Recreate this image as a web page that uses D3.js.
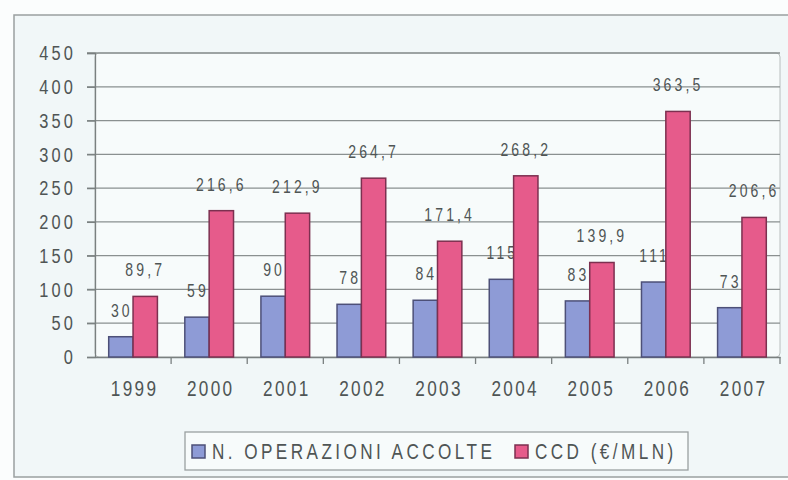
<!DOCTYPE html>
<html>
<head>
<meta charset="utf-8">
<script src="https://cdn.jsdelivr.net/npm/d3@7"></script>
<style>
  body { margin: 0; background: #fbfdfd; }
  text { font-family: "Liberation Sans", Arial, sans-serif; fill: #4f5555; }
</style>
</head>
<body>
<div class="graph"></div>
<script>
	var years = ["1999", "2000", "2001", "2002", "2003", "2004", "2005", "2006", "2007"];
	var operazioni = [30, 59, 90, 78, 84, 115, 83, 111, 73];
	var ccd = [89.7, 216.6, 212.9, 264.7, 171.4, 268.2, 139.9, 363.5, 206.6];
	var yTicks = [0, 50, 100, 150, 200, 250, 300, 350, 400, 450];
	var seriesNames = ["N. OPERAZIONI ACCOLTE", "CCD (€/MLN)"];

	var colBlue = "#8e9bd6", colPink = "#e65b8b";
	var k = 0.78;   // the font in the picture is a narrow one, squeeze it
	var squeeze = "scale(" + k + ",1)";

	var svg = d3.select(".graph")
	   .append("svg")
	   .attr("width", 788)
	   .attr("height", 480);

	// outer frame
	svg.append("rect")
		.attr("x", 14).attr("y", 15)
		.attr("width", 790).attr("height", 462)
		.attr("fill", "#f1f7f8")
		.attr("stroke", "#9aa0a0")
		.attr("stroke-width", 1.5);

	var plotLeft = 95, plotRight = 780, plotTop = 53, plotBottom = 357;

	var x = d3.scaleBand().domain(years).range([plotLeft, plotRight]);
	var x1 = d3.scaleBand().domain([0, 1])
		.range([x.bandwidth() * 0.18, x.bandwidth() * 0.82]);
	var y = d3.scaleLinear().domain([0, 450]).range([plotBottom, plotTop]);

	// plot area
	svg.append("rect")
		.attr("x", plotLeft).attr("y", plotTop)
		.attr("width", plotRight - plotLeft).attr("height", plotBottom - plotTop)
		.attr("rx", 4)
		.attr("fill", "#f7fbfb")
		.attr("stroke", "#b8bebe");

	// gridlines
	svg.selectAll("line.grid")
		.data(yTicks.slice(1))
		.enter()
		.append("line")
		.attr("x1", plotLeft - 8)
		.attr("x2", plotRight)
		.attr("y1", function(d){ return y(d); })
		.attr("y2", function(d){ return y(d); })
		.attr("stroke", "#8a9090")
		.attr("stroke-width", 1.3);

	// y axis
	var yAxis = svg.append("g")
		.attr("transform", "translate(" + plotLeft + ",0)")
		.call(d3.axisLeft(y).tickValues(yTicks).tickSize(8));
	yAxis.select(".domain").attr("stroke", "#7a8080").attr("stroke-width", 1.3);
	yAxis.selectAll(".tick line").attr("stroke", "#7a8080").attr("stroke-width", 1.3);
	yAxis.selectAll("text")
		.attr("x", -19 / k)
		.attr("transform", squeeze)
		.attr("font-size", "21px")
		.attr("letter-spacing", "4px")
		.attr("fill", "#4f5555");

	// x axis
	var xAxis = svg.append("g")
		.attr("transform", "translate(0," + plotBottom + ")")
		.call(d3.axisBottom(x).tickSize(0).tickPadding(23));
	xAxis.select(".domain").attr("stroke", "#7a8080").attr("stroke-width", 1.3);
	xAxis.selectAll("text")
		.attr("x", 2)
		.attr("transform", squeeze)
		.attr("font-size", "22px")
		.attr("letter-spacing", "3px")
		.attr("fill", "#4f5555");

	// ticks between the categories
	svg.selectAll("line.xtick")
		.data(years)
		.enter()
		.append("line")
		.attr("x1", function(d){ return x(d) + x.bandwidth(); })
		.attr("x2", function(d){ return x(d) + x.bandwidth(); })
		.attr("y1", plotBottom)
		.attr("y2", plotBottom + 7)
		.attr("stroke", "#7a8080")
		.attr("stroke-width", 1.3);

	// blue bars + labels (pink bars drawn over these labels)
	svg.selectAll("rect.blue")
		.data(operazioni)
		.enter()
		.append("rect")
		.attr("x", function(d, i){ return x(years[i]) + x1(0); })
		.attr("y", function(d){ return y(d); })
		.attr("width", x1.bandwidth())
		.attr("height", function(d){ return plotBottom - y(d); })
		.attr("fill", colBlue)
		.attr("stroke", "#4d5078")
		.attr("stroke-width", 1.5);

	svg.selectAll("text.lblBlue")
		.data(operazioni)
		.enter()
		.append("text")
		.attr("text-anchor", "middle")
		.attr("font-size", "18px")
		.attr("letter-spacing", "4px")
		.attr("transform", squeeze)
		.attr("x", function(d, i){ return (x(years[i]) + x1(0) + x1.bandwidth() / 2 + 1) / k; })
		.attr("y", function(d){ return y(d) - 20; })
		.text(function(d){ return d; });

	svg.selectAll("rect.pink")
		.data(ccd)
		.enter()
		.append("rect")
		.attr("x", function(d, i){ return x(years[i]) + x1(1); })
		.attr("y", function(d){ return y(d); })
		.attr("width", x1.bandwidth())
		.attr("height", function(d){ return plotBottom - y(d); })
		.attr("fill", colPink)
		.attr("stroke", "#7c3050")
		.attr("stroke-width", 1.5);

	svg.selectAll("text.lblPink")
		.data(ccd)
		.enter()
		.append("text")
		.attr("text-anchor", "middle")
		.attr("font-size", "18px")
		.attr("letter-spacing", "4px")
		.attr("transform", squeeze)
		.attr("x", function(d, i){ return (x(years[i]) + x1(1) + x1.bandwidth() / 2) / k; })
		.attr("y", function(d){ return y(d) - 20; })
		.text(function(d){ return String(d).replace(".", ","); });

	// legend
	svg.append("rect")
		.attr("x", 185).attr("y", 432)
		.attr("width", 503).attr("height", 38)
		.attr("fill", "#f7fbfb")
		.attr("stroke", "#9aa0a0")
		.attr("stroke-width", 1.3);

	var legX = [192, 515];
	svg.selectAll("rect.leg")
		.data(seriesNames)
		.enter()
		.append("rect")
		.attr("x", function(d, i){ return legX[i]; })
		.attr("y", 445)
		.attr("width", 13).attr("height", 13)
		.attr("fill", function(d, i){ return i == 0 ? colBlue : colPink; })
		.attr("stroke", function(d, i){ return i == 0 ? "#4d5078" : "#7c3050"; })
		.attr("stroke-width", 1.5);

	svg.selectAll("text.leg")
		.data(seriesNames)
		.enter()
		.append("text")
		.attr("transform", squeeze)
		.attr("x", function(d, i){ return (legX[i] + 20) / k; })
		.attr("y", 459)
		.attr("font-size", "22px")
		.attr("letter-spacing", "4.4px")
		.attr("fill", "#4f5555")
		.text(function(d){ return d; });
</script>
</body>
</html>
